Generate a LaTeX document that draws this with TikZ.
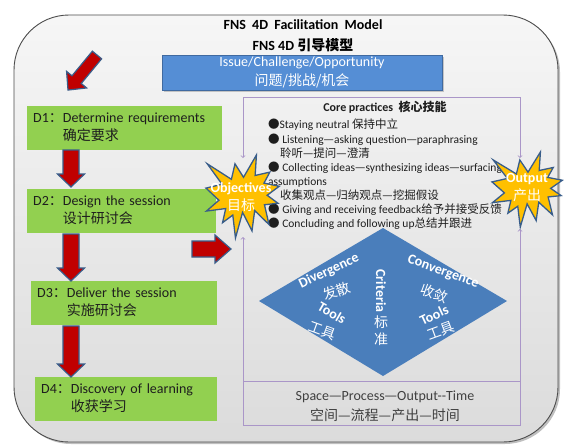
\documentclass[tikz,border=0pt]{standalone}
\usepackage{fontspec}
\setmainfont{Carlito}
\newfontfamily\cjk{Noto Sans CJK SC}
\newcommand{\zh}[1]{{\cjk #1}}
\usetikzlibrary{shadows}
\definecolor{boxgreen}{RGB}{146,208,80}
\definecolor{arrowred}{RGB}{192,0,0}
\definecolor{edgeblue}{RGB}{56,93,138}
\definecolor{stargold}{RGB}{255,192,0}
\definecolor{issueblue}{RGB}{85,142,213}
\definecolor{diablue}{RGB}{74,126,187}
\definecolor{framepurple}{RGB}{170,150,200}
\definecolor{textgray}{RGB}{30,30,30}
\definecolor{bottomgray}{RGB}{64,64,64}
\tikzset{
  dbox/.style={fill=boxgreen, anchor=north west, minimum height=44pt, inner xsep=6pt,
    inner ysep=0pt, align=left, text=textgray, font=\fontsize{14}{18}\selectfont},
  redarrow/.style={draw=edgeblue, fill=arrowred, line width=1.2pt, line join=miter},
  frameline/.style={draw=framepurple, line width=0.8pt},
  startext/.style={text=white, align=center, inner sep=0pt, font=\fontsize{14}{18}\selectfont},
  diatext/.style={text=white, inner sep=0pt, font=\bfseries\fontsize{14}{16}\selectfont},
  diazh/.style={text=white, inner sep=0pt, font=\fontsize{14}{16}\selectfont},
  % length / shaft half width / head half width / head length
  pics/blockarrow/.style n args={4}{code={
    \draw[redarrow] (0,-#2) -- (#1-#4,-#2) -- (#1-#4,-#3) -- (#1,0)
      -- (#1-#4,#3) -- (#1-#4,#2) -- (0,#2) -- cycle;
  }},
  burst/.pic={
    \draw[fill=stargold, draw=edgeblue, line width=1.3pt, line join=miter]
      (50,26.85) -- (67.23,0) -- (65.53,24.65) -- (85.09,20.63) -- (77.32,33.87)
      -- (97.67,37.67) -- (81.51,48.50) -- (95.97,58.13) -- (77.95,59.92)
      -- (84.00,83.77) -- (64.91,66.93) -- (61.33,91.38) -- (48.76,69.14)
      -- (39.28,100) -- (35.72,72.35) -- (22.05,81.56) -- (26.24,64.52)
      -- (0.63,67.53) -- (17.23,54.51) -- (0,39.88) -- (21.42,35.26)
      -- (1.71,10.63) -- (33.85,29.26) -- (38.67,10.63) -- cycle;
  }
}
\begin{document}
\begin{tikzpicture}[x=1pt, y=-1pt]
    \useasboundingbox (0,0) rectangle (569,447);
    \fill[white] (0,0) rectangle (569,447);
    % outer panel
    \draw[rounded corners=55pt, top color=gray!7, bottom color=gray!28, draw=gray!60!black,
      line width=0.9pt, drop shadow={shadow xshift=2pt, shadow yshift=-2pt, opacity=0.5}]
      (14,15) rectangle (558,442);

    % title
    \node[font=\bfseries\fontsize{14}{18}\selectfont] (title) at (303,25) {FNS\ \ 4D\ \ Facilitation\ \ Model};
    \node[font=\bfseries\fontsize{14}{18}\selectfont] (subtitle) at (303,45) {FNS 4D \zh{引导模型}};
    \node[fill=issueblue, draw=issueblue!75!black, minimum width=280pt, minimum height=35pt,
      inner sep=0pt, text=white, align=center, font=\fontsize{14}{19}\selectfont,
      drop shadow={shadow xshift=1.5pt, shadow yshift=-1.5pt, opacity=0.4}]
      (issue) at (302,72.5) {Issue/Challenge/Opportunity\\\zh{问题/挑战/机会}};

    % four D steps
    \node[dbox, text width=183pt] (d1) at (27,106)
      {\begin{tabular}{@{}l@{}l@{}}D1\zh{：}&Determine requirements\\&\zh{确定要求}\end{tabular}};
    \node[dbox, text width=177pt] (d2) at (27,189)
      {\begin{tabular}{@{}l@{}l@{}}D2\zh{：}&Design the session\\&\zh{设计研讨会}\end{tabular}};
    \node[dbox, text width=174pt] (d3) at (31,281)
      {\begin{tabular}{@{}l@{}l@{}}D3\zh{：}&Deliver the session\\&\zh{实施研讨会}\end{tabular}};
    \node[dbox, text width=170pt] (d4) at (35,377)
      {\begin{tabular}{@{}l@{}l@{}}D4\zh{：}&Discovery of learning\\&\zh{收获学习}\end{tabular}};

    % red block arrows
    \pic[rotate=230.4] at (97,55) {blockarrow={45.5}{6}{13}{13.5}};
    \pic[rotate=-90] at (71,150) {blockarrow={37}{8}{13.5}{13}};
    \pic[rotate=-90] at (71,234) {blockarrow={47}{8}{13.5}{13}};
    \pic[rotate=-90] at (71,326) {blockarrow={51}{8}{13.5}{13}};
    \pic at (192,249) {blockarrow={39}{8}{14}{16}};

    % frame of the core practices
    \coordinate (objtop) at (243,158);
    \coordinate (objbot) at (243,237);
    \coordinate (outtop) at (520,158);
    \coordinate (outbot) at (520,229);
    \draw[frameline, <->] (objtop) -- ++(0,-61) -| (outtop);
    \draw[frameline, <->] (objbot) |- (520,425) -- (outbot);
    \draw[frameline] (243,381) -- (520,381);

    % core practices
    \node[font=\bfseries\fontsize{12}{14}\selectfont, text=textgray] (core) at (385,107) {Core practices\ \ \zh{核心技能}};
    \node[anchor=north west, inner sep=0pt, align=left, text=textgray, font=\fontsize{11.5}{14.1}\selectfont]
      (skills) at (268,119) {%
      \zh{●}Staying neutral \zh{保持中立}\\
      \zh{●} Listening\zh{—}asking question\zh{—}paraphrasing\\
      \hspace*{12pt}\zh{聆听—提问—澄清}\\
      \zh{●} Collecting ideas\zh{—}synthesizing ideas\zh{—}surfacing\\
      assumptions\\
      \hspace*{12pt}\zh{收集观点—归纳观点—挖掘假设}\\
      \zh{●} Giving and receiving feedback\zh{给予并接受反馈}\\
      \zh{●} Concluding and following up\zh{总结并跟进}};

    % stars
    \begin{scope}[shift={(206,155)}]
      \pic[x=0.75pt, y=-0.83pt] {burst};
    \end{scope}
    \begin{scope}[shift={(492,152)}]
      \pic[x=0.72pt, y=-0.75pt] {burst};
    \end{scope}
    \node[startext] (obj) at (241,197) {\textbf{Objectives}\\\zh{目标}};
    \node[startext] (out) at (527,188) {\textbf{Output}\\\zh{产出}};

    % divergence / convergence diamond
    \fill[diablue] (383,228) -- (507,301) -- (383,376) -- (259,301) -- cycle;
    \node[diatext, rotate=25] (div) at (329,271) {Divergence};
    \node[diazh, rotate=20] (divzh) at (337,291) {\zh{发散}};
    \node[diatext, rotate=-30] (tooll) at (332,313) {Tools};
    \node[diazh, rotate=-20] (toollzh) at (322,331) {\zh{工具}};
    \node[diatext, rotate=-90] (crit) at (381,291) {Criteria};
    \node[diazh, align=center, font=\fontsize{14}{17}\selectfont] (critzh) at (381,331) {\zh{标}\\\zh{准}};
    \node[diatext, rotate=-20] (conv) at (443,272) {Convergence};
    \node[diazh, rotate=-20] (convzh) at (434,293) {\zh{收敛}};
    \node[diatext, rotate=25] (toolr) at (434,315) {Tools};
    \node[diazh, rotate=20] (toolrzh) at (441,331) {\zh{工具}};

    % space process output time
    \node[text=bottomgray, font=\fontsize{14}{18}\selectfont] (spot) at (385,397) {Space\zh{—}Process\zh{—}Output-{}-Time};
    \node[text=bottomgray, font=\fontsize{14}{18}\selectfont] (spotzh) at (385,415) {\zh{空间—流程—产出—时间}};
\end{tikzpicture}
\end{document}
